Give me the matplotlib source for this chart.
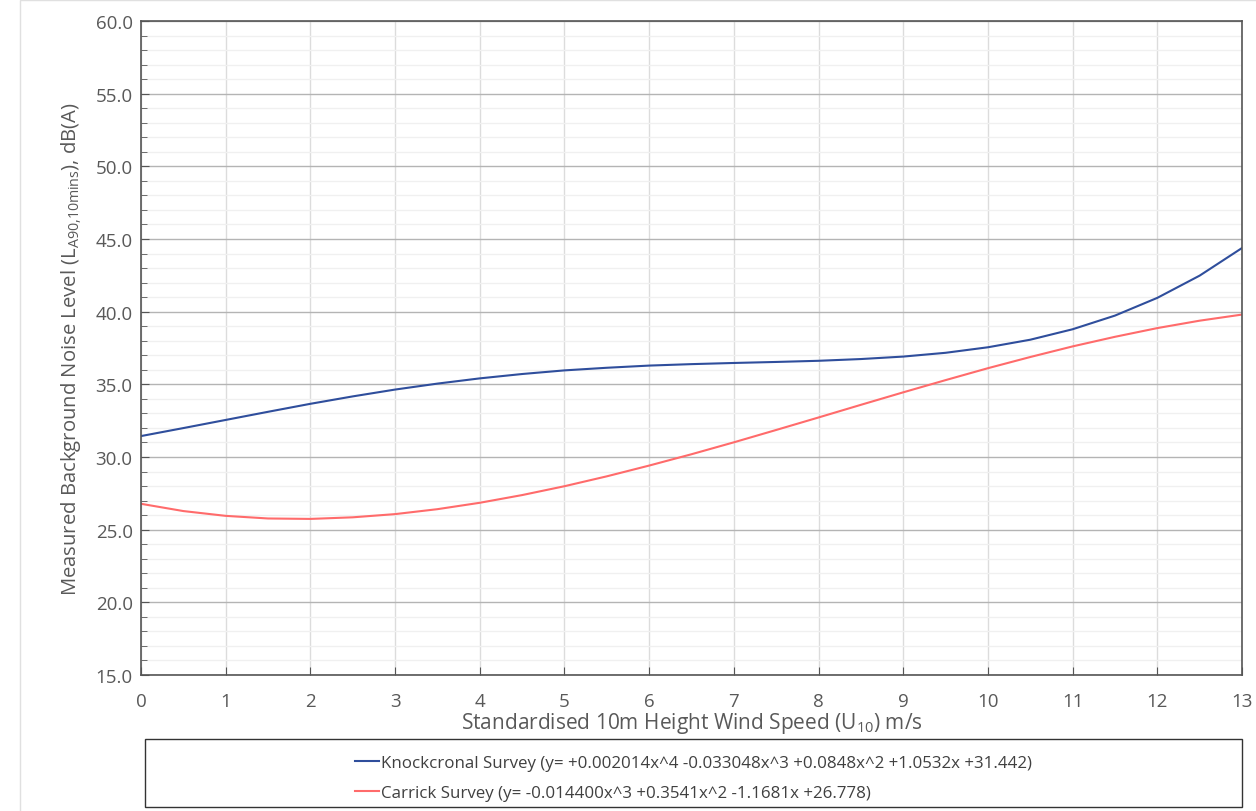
import matplotlib
matplotlib.use("Agg")
import matplotlib.pyplot as plt
import matplotlib.patches as mpatches
from matplotlib.ticker import MultipleLocator, FormatStrFormatter

plt.rcParams["font.family"] = ["Open Sans", "DejaVu Sans"]
plt.rcParams["mathtext.fontset"] = "custom"
plt.rcParams["mathtext.rm"] = "Open Sans"
plt.rcParams["mathtext.it"] = "Open Sans"

# wind speed (m/s) and values
wind_speed = [0, 0.5, 1, 1.5, 2, 2.5, 3, 3.5, 4, 4.5, 5, 5.5, 6, 6.5, 7,
              7.5, 8, 8.5, 9, 9.5, 10, 10.5, 11, 11.5, 12, 12.5, 13]
knockcronal = [31.44, 31.99, 32.55, 33.11, 33.66, 34.17, 34.64, 35.05, 35.41,
               35.71, 35.96, 36.14, 36.29, 36.39, 36.47, 36.54, 36.62, 36.74,
               36.91, 37.17, 37.55, 38.07, 38.79, 39.73, 40.95, 42.48, 44.38]
carrick = [26.78, 26.28, 25.95, 25.77, 25.74, 25.85, 26.07, 26.41, 26.85,
           27.38, 27.99, 28.67, 29.41, 30.19, 31.01, 31.86, 32.72, 33.59,
           34.45, 35.29, 36.11, 36.88, 37.61, 38.27, 38.87, 39.38, 39.80]

labels = [
    "Knockcronal Survey (y= +0.002014x^4 -0.033048x^3 +0.0848x^2 +1.0532x +31.442)",
    "Carrick Survey (y= -0.014400x^3 +0.3541x^2 -1.1681x +26.778)",
]

fig = plt.figure(figsize=(12.56, 8.12), dpi=100)

# faint outer frame of the exported chart
frame = mpatches.Rectangle((20 / 1256, -0.01), 1.0, 1 - 1 / 812 + 0.01,
                           transform=fig.transFigure, fill=False,
                           edgecolor="#e0e0e0", lw=1)
fig.patches.append(frame)

ax = fig.add_axes([141 / 1256, 1 - 676 / 812, (1242 - 141) / 1256, (676 - 22) / 812])

l1, = ax.plot(wind_speed, knockcronal, color="#2F4E9C", lw=1.5, label=labels[0])
l2, = ax.plot(wind_speed, carrick, color="#FF6B6B", lw=1.5, label=labels[1])

ax.set_xlim(0, 13)
ax.set_ylim(15, 60)
ax.xaxis.set_major_locator(MultipleLocator(1))
ax.yaxis.set_major_locator(MultipleLocator(5))
ax.yaxis.set_minor_locator(MultipleLocator(1))
ax.yaxis.set_major_formatter(FormatStrFormatter("%.1f"))

ax.grid(axis="x", which="major", color="#dcdcdc", lw=1)
ax.grid(axis="y", which="major", color="#b4b4b4", lw=1)
ax.grid(axis="y", which="minor", color="#f0f0f0", lw=1)
ax.set_axisbelow(True)

for s in ax.spines.values():
    s.set_color("#555555")
    s.set_linewidth(1.2)

ax.tick_params(axis="both", which="major", direction="in", length=6,
               color="#555555", labelsize=13.5, labelcolor="#595959")
ax.tick_params(axis="x", which="major", pad=12)
ax.tick_params(axis="y", which="major", pad=6)
ax.tick_params(axis="y", which="minor", direction="in", length=4, color="#555555")

ax.set_xlabel("Standardised 10m Height Wind Speed (U$_{10}$) m/s",
              fontsize=15, color="#595959", labelpad=0)
ax.set_ylabel("Measured Background Noise Level (L$_{\\mathrm{A90{,}10mins}}$), dB(A)",
              fontsize=14.6, color="#595959", labelpad=8)

# legend box below the plot
box = mpatches.Rectangle((145 / 1256, 1 - 808 / 812), (1242 - 145) / 1256,
                         (808 - 740) / 812, transform=fig.transFigure,
                         fill=False, edgecolor="#333333", lw=1)
fig.patches.append(box)
fig.legend(handles=[l1, l2], loc="center",
           bbox_to_anchor=((145 + 1242) / 2 / 1256, 1 - 779 / 812),
           frameon=False, fontsize=12.2, handlelength=1.4, handletextpad=0.15,
           labelspacing=0.8, labelcolor="#404040")

fig.savefig("out.png", dpi=100)
